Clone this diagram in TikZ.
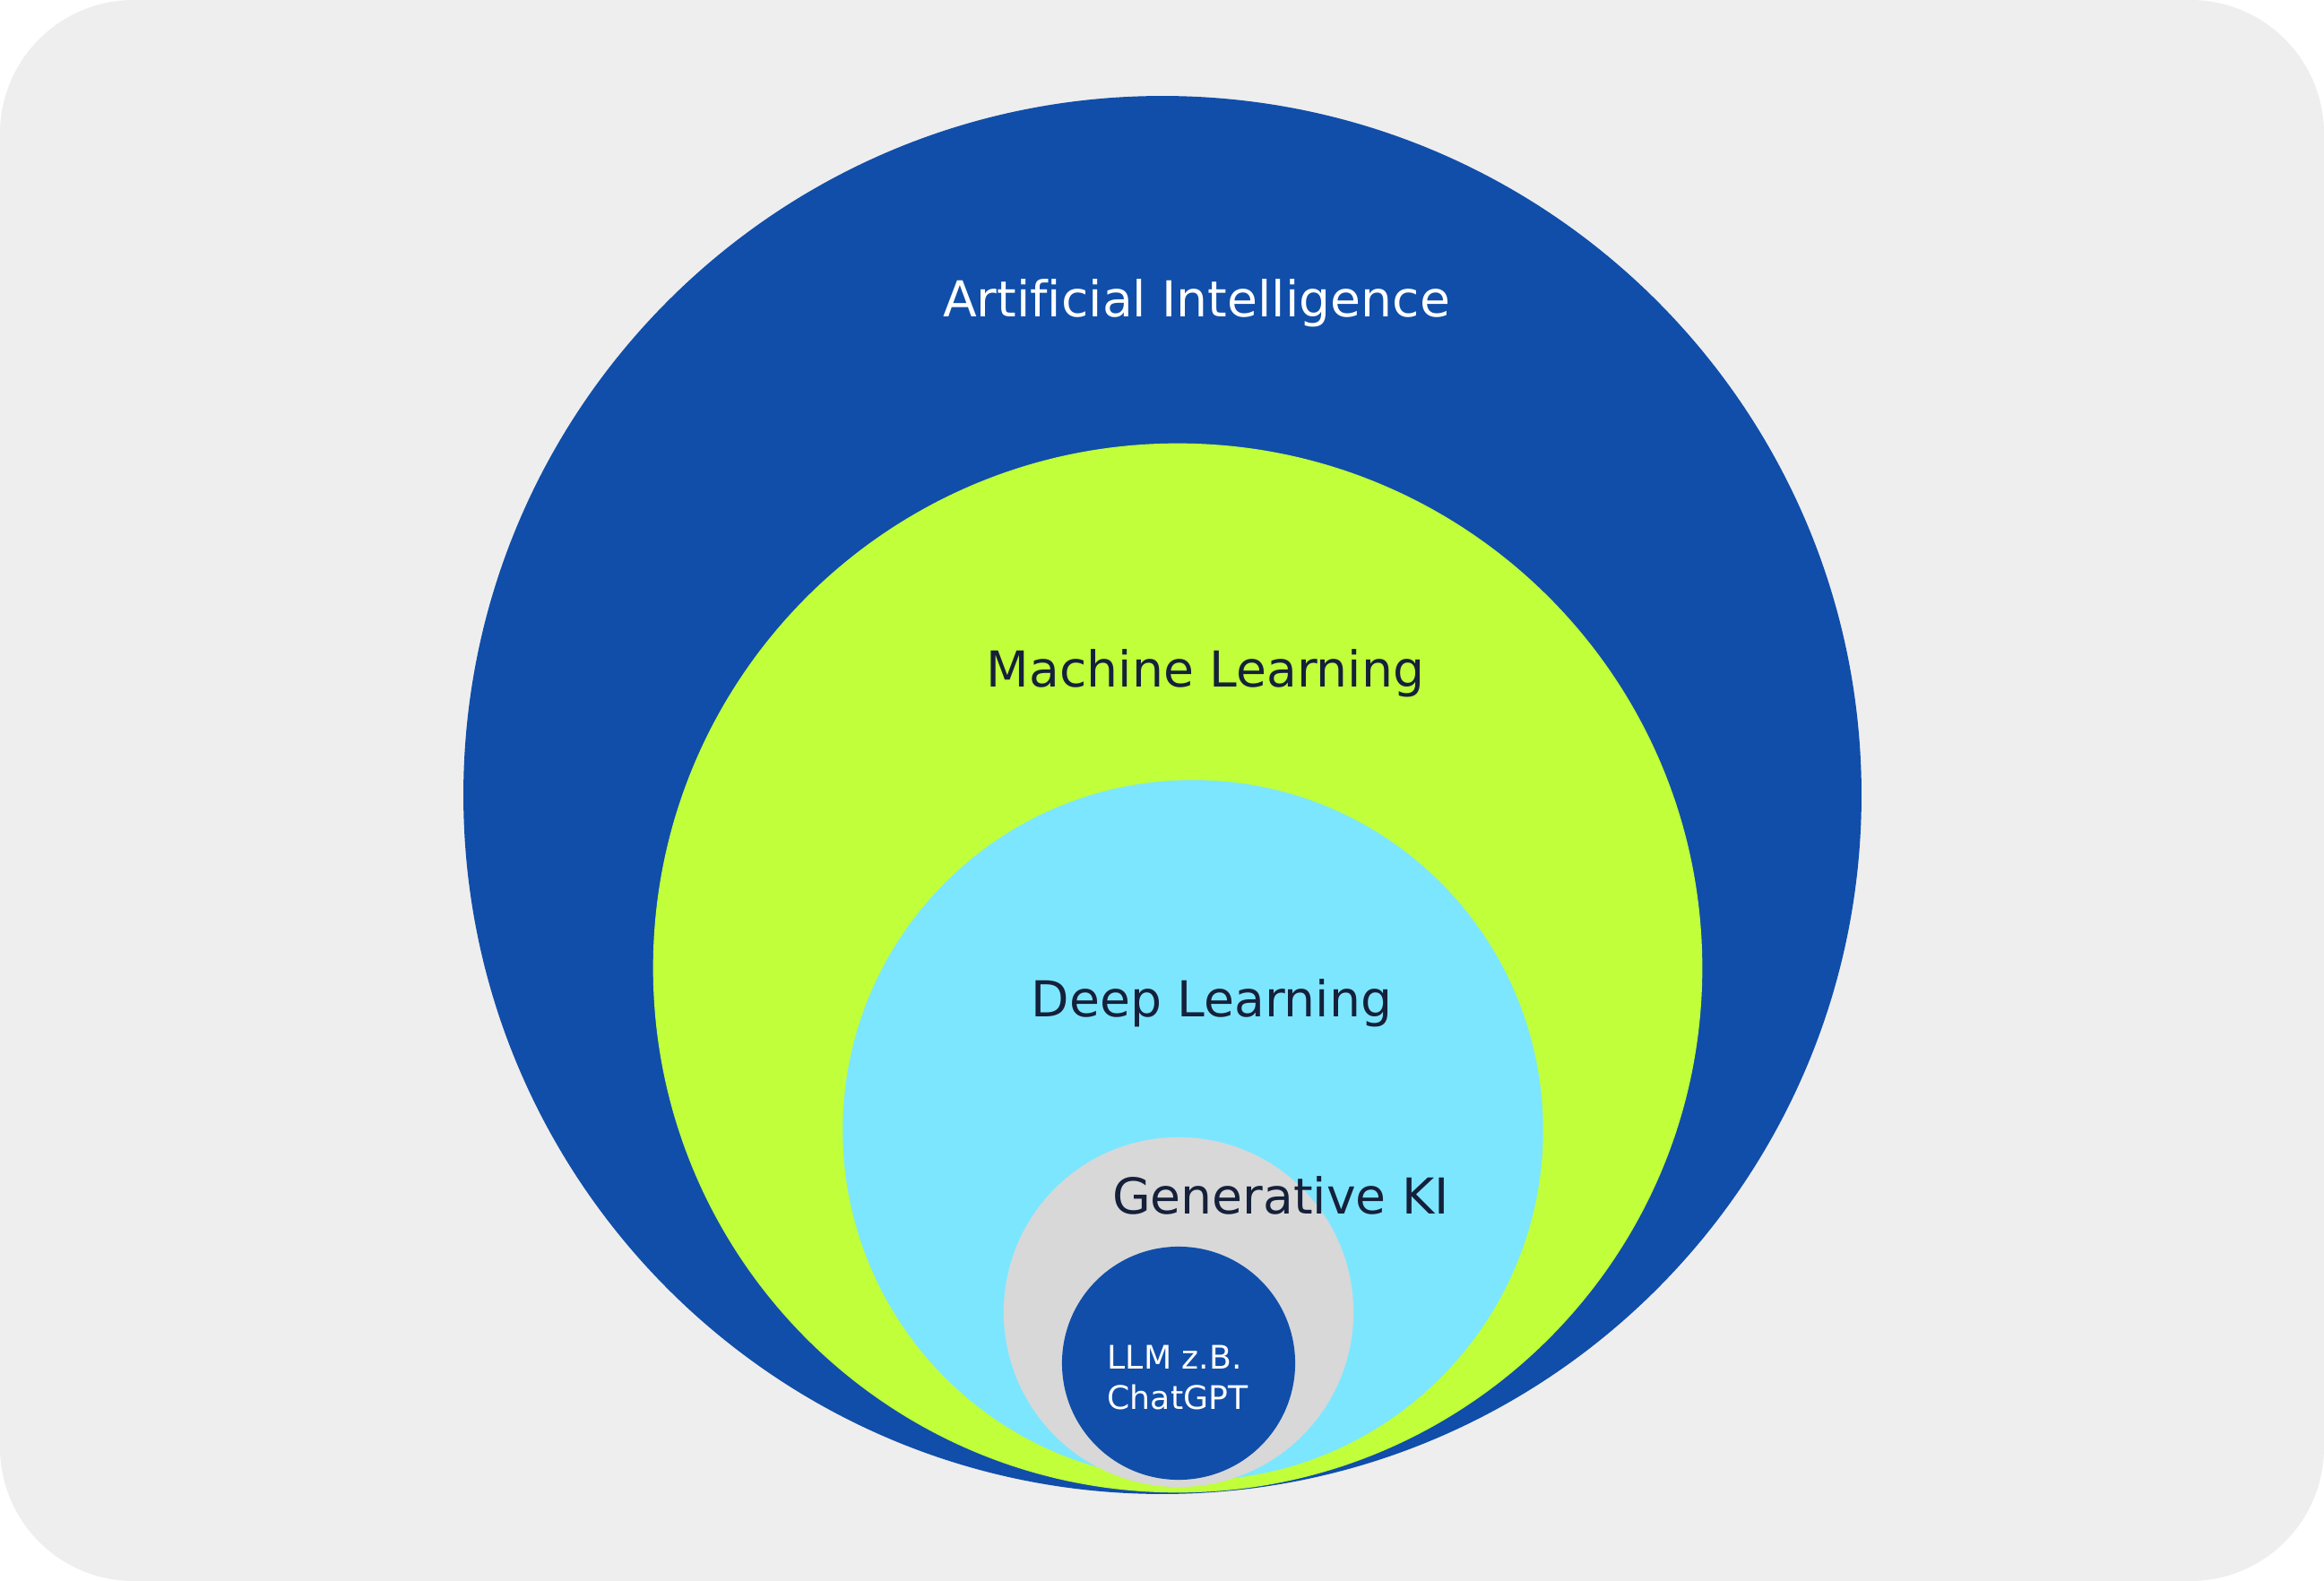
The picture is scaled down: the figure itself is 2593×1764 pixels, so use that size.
\documentclass[tikz,border=0pt]{standalone}
\usepackage{fontspec}
\setmainfont{DejaVu Sans}[Ligatures=NoCommon]
\usetikzlibrary{shapes.geometric}
\definecolor{bggray}{HTML}{EEEEEE}
\definecolor{aiblue}{HTML}{104EAA}
\definecolor{mlgreen}{HTML}{C0FF3A}
\definecolor{dlcyan}{HTML}{7DE6FF}
\definecolor{kigray}{HTML}{D8D8D8}
\definecolor{darktext}{HTML}{15203A}
\tikzstyle{ring} = [circle, inner sep=0pt, outer sep=0pt, draw=none]
\tikzstyle{bigtitle} = [anchor=base, inner sep=0pt, font=\fontsize{15.7pt}{18pt}\selectfont]
\tikzstyle{smalltitle} = [anchor=north west, inner sep=0pt, align=left, font=\fontsize{10.3pt}{12.8pt}\selectfont]

\begin{document}
\begin{tikzpicture}[x=0.01cm, y=-0.01cm]
    \fill[bggray, rounded corners=1.49cm] (0,0) rectangle (2593,1764);
    \useasboundingbox (0,0) rectangle (2593,1764);

    \node at (1297,887) [ring, fill=aiblue, minimum size=15.59cm] (ai) {};
    \node at (1314,1080) [ring, fill=mlgreen, minimum size=11.70cm] (ml) {};
    \node at (1331,1261) [ring, fill=dlcyan, minimum size=7.81cm] (dl) {};
    \node at (1315,1464) [ring, fill=kigray, minimum size=3.90cm] (genki) {};
    \node at (1315,1521) [ring, fill=aiblue, minimum size=2.60cm] (llm) {};

    \node at (1335,354) [bigtitle, text=white] (aitext) {Artificial Intelligence};
    \node at (1345,766) [bigtitle, text=darktext] (mltext) {Machine Learning};
    \node at (1352,1134) [bigtitle, text=darktext] (dltext) {Deep Learning};
    \node at (1429,1354) [bigtitle, text=darktext] (genkitext) {Generative KI};
    \node at (1235,1500) [smalltitle, text=white] (llmtext) {LLM z.B.\\ChatGPT};
\end{tikzpicture}
\end{document}
